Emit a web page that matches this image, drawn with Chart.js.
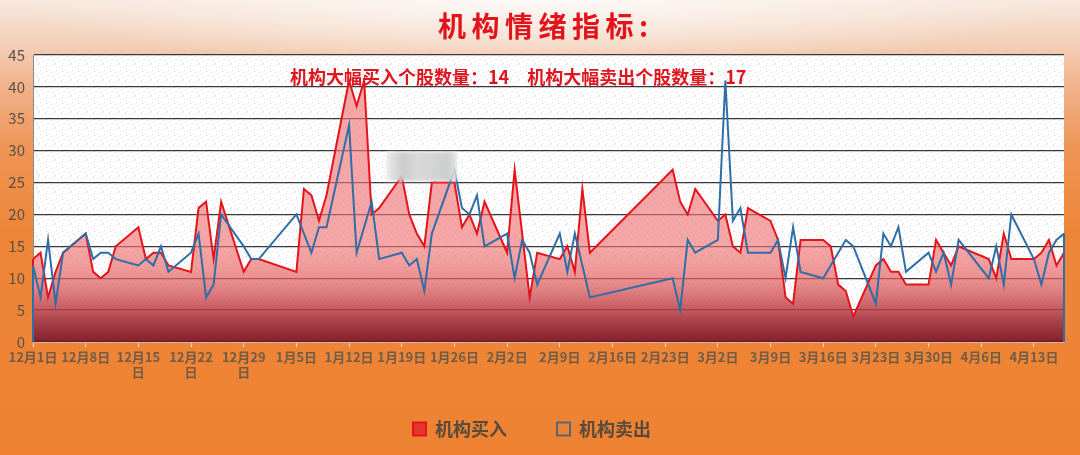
<!DOCTYPE html>
<html><head><meta charset="utf-8">
<script src="https://cdn.jsdelivr.net/npm/chart.js@4.4.1/dist/chart.umd.min.js"></script>
<style>
html,body{margin:0;padding:0;}
body{width:1080px;height:455px;overflow:hidden;}
#wrap{position:relative;width:1080px;height:455px;
 background:
  radial-gradient(ellipse 520px 70px at 50% 0px, rgba(255,255,255,0.75), rgba(255,255,255,0) 100%),
  linear-gradient(to bottom,#F7E8DE 0px,#F3D2BC 40px,#F0B088 90px,#EE9455 150px,#EE8638 230px,#EE8232 455px);}
#wrap canvas{position:absolute;left:0;top:0;}
#title{position:absolute;left:438px;top:11px;font:bold 28px/28px 'Noto Sans CJK SC';letter-spacing:5.5px;color:#E3131B;white-space:nowrap;}
#sub{position:absolute;left:290px;top:67px;font:bold 18px/18px 'Noto Sans CJK SC';color:#DF161E;white-space:pre;}
#mosaic{position:absolute;left:386px;top:152px;width:71px;height:29px;
 background:linear-gradient(to right,#ececec 0%,#d4d4d4 15%,#c9c9c9 25%,#d6d6d6 45%,#d0d0d0 70%,#c5cccc 88%,#e6e6e6 100%);
 filter:blur(1.5px);opacity:0.92;}
</style></head>
<body>
<div id="wrap">
<canvas id="c" width="1080" height="455"></canvas>
<div id="title">机构情绪指标:</div>
<div id="sub">机构大幅买入个股数量：14　机构大幅卖出个股数量：17</div>
<div id="mosaic"></div>
</div>
<script>
const startDate = '2025-12-01';
const endDate = '2026-04-17';
const dates = [
 '2025-12-01','2025-12-02','2025-12-03','2025-12-04','2025-12-05',
 '2025-12-08','2025-12-09','2025-12-10','2025-12-11','2025-12-12',
 '2025-12-15','2025-12-16','2025-12-17','2025-12-18','2025-12-19',
 '2025-12-22','2025-12-23','2025-12-24','2025-12-25','2025-12-26',
 '2025-12-29','2025-12-30','2025-12-31',
 '2026-01-05','2026-01-06','2026-01-07','2026-01-08','2026-01-09',
 '2026-01-12','2026-01-13','2026-01-14','2026-01-15','2026-01-16',
 '2026-01-19','2026-01-20','2026-01-21','2026-01-22','2026-01-23',
 '2026-01-26','2026-01-27','2026-01-28','2026-01-29','2026-01-30',
 '2026-02-02','2026-02-03','2026-02-04','2026-02-05','2026-02-06',
 '2026-02-09','2026-02-10','2026-02-11','2026-02-12','2026-02-13',
 '2026-02-24','2026-02-25','2026-02-26','2026-02-27',
 '2026-03-02','2026-03-03','2026-03-04','2026-03-05','2026-03-06',
 '2026-03-09','2026-03-10','2026-03-11','2026-03-12','2026-03-13',
 '2026-03-16','2026-03-17','2026-03-18','2026-03-19','2026-03-20',
 '2026-03-23','2026-03-24','2026-03-25','2026-03-26','2026-03-27',
 '2026-03-30','2026-03-31','2026-04-01','2026-04-02','2026-04-03',
 '2026-04-07','2026-04-08','2026-04-09','2026-04-10',
 '2026-04-13','2026-04-14','2026-04-15','2026-04-16','2026-04-17'
];
const buyValues = [
 13,14,7,11,14,
 17,11,10,11,15,
 18,13,14,14,12,
 11,21,22,13,22,
 11,13,13,
 11,24,23,19,23,
 41,37,41,20,21,
 26,20,17,15,25,
 25,18,20,17,22,
 14,27,17,7,14,
 13,15,11,24,14,
 27,22,20,24,
 19,20,15,14,21,
 19,16,7,6,16,
 16,15,9,8,4,
 12,13,11,11,9,
 9,16,14,12,15,
 13,10,17,13,
 13,14,16,12,14
];
const sellValues = [
 12,7,16,6,14,
 17,13,14,14,13,
 12,13,12,15,11,
 14,17,7,9,20,
 15,13,13,
 20,17,14,18,18,
 34,14,18,22,13,
 14,12,13,8,17,
 27,21,20,23,15,
 17,10,16,14,9,
 17,11,17,12,7,
 10,5,16,14,
 16,41,19,21,14,
 14,16,10,18,11,
 10,12,14,16,15,
 6,17,15,18,11,
 14,11,14,9,16,
 10,15,9,20,
 13,9,14,16,17
];
const tickDates = ['2025-12-01','2025-12-08','2025-12-15','2025-12-22','2025-12-29','2026-01-05','2026-01-12','2026-01-19','2026-01-26','2026-02-02','2026-02-09','2026-02-16','2026-02-23','2026-03-02','2026-03-09','2026-03-16','2026-03-23','2026-03-30','2026-04-06','2026-04-13'];
const tickLabels = ['12月1日','12月8日',['12月15','日'],['12月22','日'],['12月29','日'],'1月5日','1月12日','1月19日','1月26日','2月2日','2月9日','2月16日','2月23日','3月2日','3月9日','3月16日','3月23日','3月30日','4月6日','4月13日'];
const yTickValues = [0,5,10,15,20,25,30,35,40,45];
const seriesNames = ['机构买入','机构卖出'];

const FONT = "'Noto Sans CJK SC','Noto Sans',sans-serif";
const RED = '#E3141C';
const BLUE = '#2F6EA6';
const dayOf = s => Math.round((Date.parse(s + 'T00:00:00Z') - Date.parse(startDate + 'T00:00:00Z')) / 86400000);
const toPts = vals => dates.map((d, i) => ({x: dayOf(d), y: vals[i]}));

// speckled plot background texture
const patCanvas = document.createElement('canvas');
patCanvas.width = 16; patCanvas.height = 16;
(function(){
  const p = patCanvas.getContext('2d');
  p.fillStyle = '#ffffff'; p.fillRect(0,0,16,16);
  const specks = [[1,2],[6,0],[11,3],[14,7],[3,8],[8,6],[12,12],[5,13],[0,11],[9,10],[15,15],[7,15],[2,5],[13,1],[10,14],[4,11]];
  specks.forEach(([a,b], k) => {
    p.fillStyle = k % 2 ? 'rgba(150,160,170,0.45)' : 'rgba(170,175,185,0.35)';
    p.fillRect(a,b,1,1);
  });
})();

const bgPlugin = {
  id: 'bgPlugin',
  beforeDraw(chart) {
    const {ctx, chartArea: a} = chart;
    ctx.save();
    ctx.fillStyle = ctx.createPattern(patCanvas, 'repeat');
    ctx.fillRect(a.left, a.top, a.right - a.left, a.bottom - a.top);
    ctx.restore();
  }
};

// let the two-line x labels extend below the axis box (no clipping)
const labelRoomPlugin = {
  id: 'labelRoom',
  afterLayout(chart) { chart.scales.x.bottom = chart.height; }
};

// Excel-style area outline verticals at both ends of each series
const edgePlugin = {
  id: 'edgePlugin',
  afterDatasetsDraw(chart) {
    const {ctx} = chart;
    const y0 = chart.scales.y.getPixelForValue(0);
    [0, 1].forEach(di => {
      const pts = chart.getDatasetMeta(di).data;
      if (!pts.length) return;
      const first = pts[0], last = pts[pts.length - 1];
      ctx.save();
      ctx.strokeStyle = chart.data.datasets[di].borderColor;
      ctx.lineWidth = 2;
      ctx.beginPath();
      ctx.moveTo(first.x, y0); ctx.lineTo(first.x, first.y);
      ctx.moveTo(last.x, y0); ctx.lineTo(last.x, last.y);
      ctx.stroke();
      ctx.restore();
    });
  }
};

new Chart(document.getElementById('c'), {
  type: 'line',
  data: {
    datasets: [
      {
        label: seriesNames[0],
        data: toPts(buyValues),
        borderColor: RED,
        borderWidth: 2,
        pointRadius: 0,
        tension: 0,
        fill: 'origin',
        order: 2,
        backgroundColor: (c) => {
          const chart = c.chart;
          if (!chart.chartArea) return 'rgba(238,110,110,0.6)';
          const ys = chart.scales.y;
          const g = chart.ctx.createLinearGradient(0, ys.getPixelForValue(0), 0, ys.getPixelForValue(15));
          g.addColorStop(0, 'rgba(120,18,30,0.94)');
          g.addColorStop(0.2, 'rgba(158,42,52,0.9)');
          g.addColorStop(0.4, 'rgba(196,70,76,0.82)');
          g.addColorStop(0.6, 'rgba(222,95,96,0.74)');
          g.addColorStop(0.8, 'rgba(234,108,108,0.67)');
          g.addColorStop(1, 'rgba(240,114,114,0.63)');
          return g;
        }
      },
      {
        label: seriesNames[1],
        data: toPts(sellValues),
        borderColor: BLUE,
        borderWidth: 2,
        pointRadius: 0,
        tension: 0,
        fill: false,
        order: 1
      }
    ]
  },
  options: {
    responsive: false,
    animation: false,
    events: [],
    layout: {padding: {top: 55, right: 16, bottom: 7, left: 0}},
    scales: {
      x: {
        type: 'linear',
        min: 0,
        max: dayOf(endDate),
        afterBuildTicks: s => { s.ticks = tickDates.map(d => ({value: dayOf(d)})); },
        afterFit: s => { s.height = 28; },
        grid: {display: true, drawOnChartArea: false, drawTicks: true, tickLength: 5, color: '#F7D9C4', lineWidth: 1},
        border: {display: true, color: '#D8B2AE', width: 1},
        ticks: {
          autoSkip: false, maxRotation: 0, minRotation: 0, padding: 3,
          color: '#715C48',
          font: {family: FONT, size: 13, weight: 'bold', lineHeight: 1.15},
          callback: (v, i) => tickLabels[i]
        }
      },
      y: {
        min: 0,
        max: 45,
        afterBuildTicks: s => { s.ticks = yTickValues.map(v => ({value: v})); },
        afterFit: s => { s.width = 33; },
        grid: {color: '#383838', lineWidth: 1.3, drawTicks: false},
        border: {display: true, color: '#8a8a8a', width: 1},
        ticks: {padding: 8, color: '#5A5048', font: {family: FONT, size: 15}}
      }
    },
    plugins: {
      title: {display: false},
      tooltip: {enabled: false},
      legend: {
        display: true,
        position: 'bottom',
        labels: {
          boxWidth: 13, boxHeight: 13, padding: 50,
          color: '#5A4A3C',
          font: {family: FONT, size: 18, weight: 'bold'},
          generateLabels: () => [
            {text: seriesNames[0], fillStyle: '#E2372F', strokeStyle: RED, lineWidth: 2, fontColor: '#5A4A3C', hidden: false, datasetIndex: 0},
            {text: seriesNames[1], fillStyle: 'rgba(0,0,0,0)', strokeStyle: '#56677A', lineWidth: 2, fontColor: '#5A4A3C', hidden: false, datasetIndex: 1}
          ]
        }
      }
    }
  },
  plugins: [bgPlugin, labelRoomPlugin, edgePlugin]
});
</script>
</body></html>
